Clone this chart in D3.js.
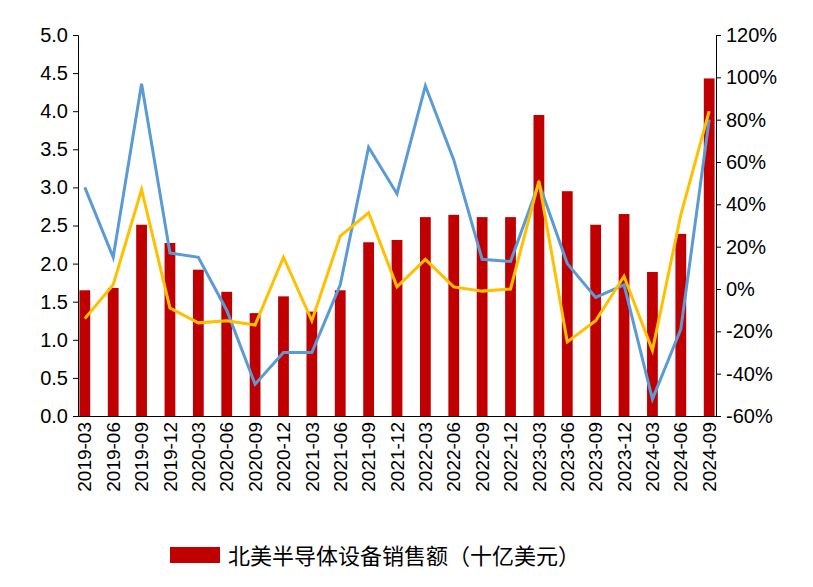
<!DOCTYPE html>
<html><head><meta charset="utf-8">
<script src="https://cdn.jsdelivr.net/npm/d3@7"></script>
<style>body{margin:0;background:#fff}</style></head>
<body><svg id="c" width="813" height="587"></svg>
<script>
const categories=["2019-03","2019-06","2019-09","2019-12","2020-03","2020-06","2020-09","2020-12","2021-03","2021-06","2021-09","2021-12","2022-03","2022-06","2022-09","2022-12","2023-03","2023-06","2023-09","2023-12","2024-03","2024-06","2024-09"];
const sales=[1.65,1.68,2.51,2.27,1.92,1.63,1.35,1.57,1.37,1.65,2.28,2.31,2.61,2.64,2.61,2.61,3.95,2.95,2.51,2.65,1.89,2.39,4.43];
const blue=[48,15,97,17,15,-10,-45,-30,-30,2,67,45,96,61,14,13,50,12,-4,2,-52,-19,80];
const yellow=[-14,2,47,-9,-16,-15,-17,15,-15,25,36,1,14,1,-1,0,51,-25,-15,6,-29,35,84];
const leftTicks=[0,0.5,1,1.5,2,2.5,3,3.5,4,4.5,5];
const rightTicks=[-60,-40,-20,0,20,40,60,80,100,120];
const legendLabel="北美半导体设备销售额（十亿美元）";

const svg=d3.select("#c"), L=78,R=716,T=35,B=416;
const font="Arial, 'Liberation Sans', 'Noto Sans CJK SC', sans-serif";
const x=d3.scaleBand().domain(categories).range([L,R]).paddingInner(0.62).paddingOuter(0.05);
const y=d3.scaleLinear().domain([0,5]).range([B,T]);
const y2=d3.scaleLinear().domain([-60,120]).range([B,T]);
svg.selectAll("rect.b").data(sales).join("rect").attr("x",(d,i)=>x(categories[i])).attr("width",x.bandwidth())
 .attr("y",d=>y(d)).attr("height",d=>B-y(d)).attr("fill","#c00000");
const ln=(arr)=>d3.line().x((d,i)=>x(categories[i])+x.bandwidth()/2).y(d=>y2(d))(arr);
svg.append("path").attr("d",ln(blue)).attr("fill","none").attr("stroke","#5b9bd5").attr("stroke-width",3);
svg.append("path").attr("d",ln(yellow)).attr("fill","none").attr("stroke","#ffc000").attr("stroke-width",3);
const ga=svg.append("g").attr("transform",`translate(${L},0)`).call(d3.axisLeft(y).tickValues(leftTicks).tickFormat(d3.format(".1f")).tickSize(5));
const gb=svg.append("g").attr("transform",`translate(${R},0)`).call(d3.axisRight(y2).tickValues(rightTicks).tickFormat(d=>d+"%").tickSize(5));
const gx=svg.append("g").attr("transform",`translate(0,${B})`).call(d3.axisBottom(x).tickSize(0));
[ga,gb,gx].forEach(g=>{g.select(".domain").attr("stroke","#000");g.selectAll("line").attr("stroke","#000");g.selectAll("text").attr("font-family",font).attr("fill","#000");});
ga.selectAll("text").attr("font-size",20).attr("dx",-2);
gb.selectAll("text").attr("font-size",20).attr("dx",2);
gx.selectAll("text").attr("font-size",19).attr("transform","rotate(-90)").attr("text-anchor","end").attr("dx",-6).attr("dy","0.35em").attr("y",0);
const lg=svg.append("g");
lg.append("rect").attr("x",170).attr("y",547).attr("width",50).attr("height",16).attr("fill","#c00000");
lg.append("text").attr("x",228).attr("y",564).attr("font-size",22).attr("font-family",font).text(legendLabel);
</script></body></html>
